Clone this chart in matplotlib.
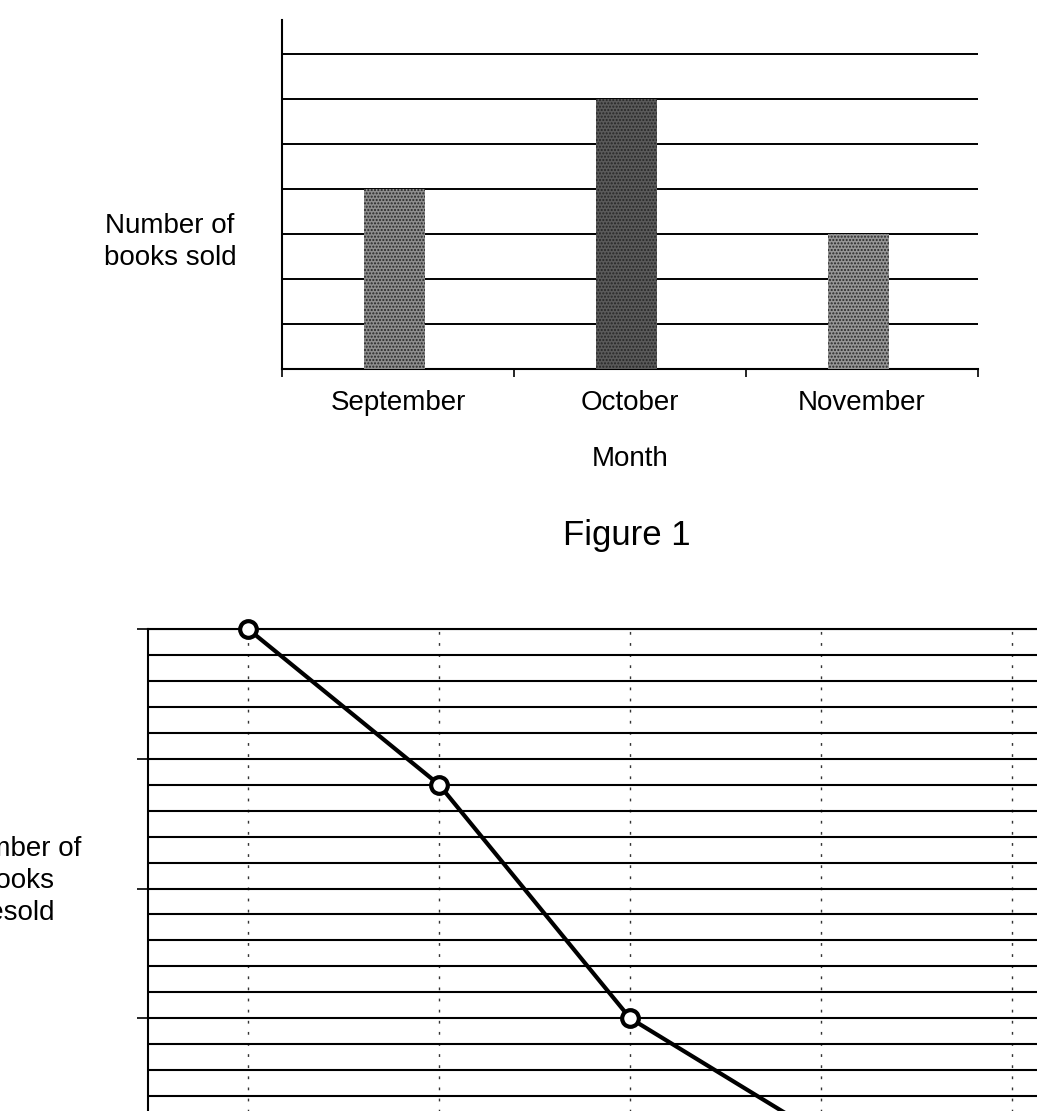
import numpy as np
import matplotlib
matplotlib.use("Agg")
import matplotlib.pyplot as plt

plt.rcParams['font.family'] = ['Liberation Sans', 'DejaVu Sans']

# Figure 1 data
months = ["September", "October", "November"]
books_sold = [4, 6, 3]
bar_faces = ["#8e8e8e", "#5a5a5a", "#969696"]

# second chart (lower, cut off at the bottom)
resold_pos = [0, 1, 2, 3]
books_resold = [40, 28, 10, 1]

W, H = 1037, 1111
fig = plt.figure(figsize=(W / 100, H / 100), dpi=100)


def px(x, y):
    return x / W, 1 - y / H


# ---- top chart ----
ax1 = fig.add_axes([282 / W, 1 - 369 / H, (978 - 282) / W, (369 - 20) / H])
xs = np.arange(len(months))
ax1.bar(xs - 0.015, books_sold, width=0.26, color=bar_faces, edgecolor="#262626",
        hatch=".....", linewidth=0, zorder=3)
ax1.set_xlim(-0.5, len(months) - 0.5)
ax1.set_ylim(0, 7.75)
ax1.set_yticks(np.arange(1, 8))
ax1.yaxis.grid(True, color="black", linewidth=1.4)
ax1.tick_params(axis="y", length=0, labelleft=False)
ax1.set_xticks(xs)
ax1.set_xticklabels(months, fontsize=20)
ax1.set_xticks(np.arange(-0.5, len(months)), minor=True)
ax1.tick_params(axis="x", which="major", length=0, pad=15)
ax1.tick_params(axis="x", which="minor", length=6, width=1.2, direction="out")
for s in ["top", "right"]:
    ax1.spines[s].set_visible(False)
for s in ["left", "bottom"]:
    ax1.spines[s].set_linewidth(1.5)
ax1.set_xlabel("Month", fontsize=20, labelpad=22)

fig.text(*px(170, 242), "Number of\nbooks sold", fontsize=20, ha="center",
         va="center", multialignment="center", linespacing=1.28)
fig.text(*px(627, 545), "Figure 1", fontsize=25, ha="center", va="baseline")

# ---- bottom chart ----
ax2 = fig.add_axes([148 / W, 1 - 1148 / H, (1037 - 148) / W, (1148 - 629) / H])
ax2.plot(resold_pos, books_resold, color="black", linewidth=3,
         marker="o", markersize=12, markerfacecolor="white",
         markeredgecolor="black", markeredgewidth=3, zorder=5, clip_on=False)
ax2.set_xlim(-0.524, 4.13)
ax2.set_ylim(0, 40)
ax2.set_xticks(np.arange(0, 5))
ax2.set_yticks(np.arange(0, 41, 10))
ax2.set_yticks(np.arange(0, 41, 2), minor=True)
ax2.xaxis.grid(True, color="#333333", linewidth=1.0, linestyle=(0, (2, 6)))
ax2.yaxis.grid(True, which="both", color="black", linewidth=1.5)
ax2.tick_params(axis="x", length=0, labelbottom=False)
ax2.tick_params(axis="y", which="major", length=8, width=1.2, labelleft=False)
ax2.tick_params(axis="y", which="minor", length=0)
ax2.spines["right"].set_visible(False)
for s in ["left", "top"]:
    ax2.spines[s].set_linewidth(1.5)

fig.text(*px(17, 881), "Number of\nbooks\nresold", fontsize=20, ha="center",
         va="center", multialignment="center", linespacing=1.32)

fig.savefig("out.png", dpi=100)
